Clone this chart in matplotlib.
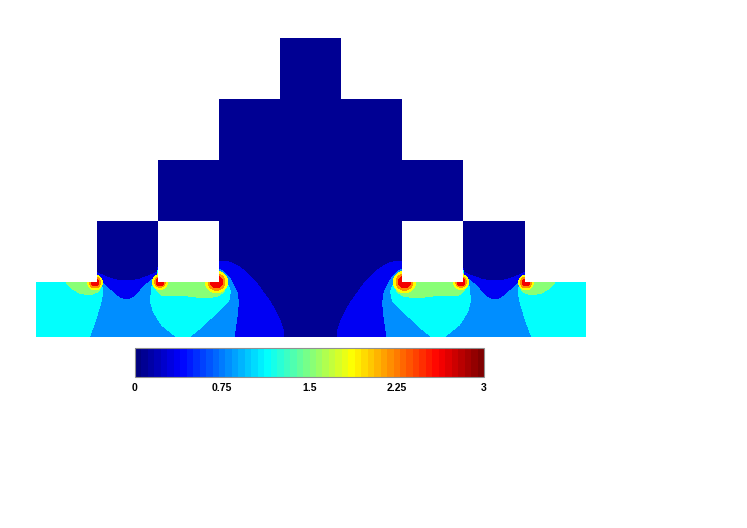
#
# stepped field over a pyramid of blocks, with a horizontal colour bar
# coordinates are mesh units, x = 0 on the symmetry axis, y = 0 on top of the strip
#

import matplotlib
matplotlib.use("Agg")
import matplotlib.pyplot as plt
import matplotlib.colors as col
import matplotlib.cm as cm
from matplotlib.patches import Polygon, Circle, Rectangle


vmin = 0.
vmax = 3.
cbar_ticks = [0, 0.75, 1.5, 2.25, 3]
cbar_labels = ["0", "0.75", "1.5", "2.25", "3"]

# outline of the whole domain, left half from the bottom up to the apex
domain_x = [0, -275, -275, -214, -214, -152.5, -152.5, -91.5, -91.5, -30.5, -30.5, 0]
domain_y = [-55, -55, 0, 0, 61, 61, 122, 122, 183, 183, 244, 244]

# openings in the pyramid, left half
hole_x = [-152.5, -91.5]
hole_y = [0, 61]

# field values of the flat bands
val_navy = 0.1
val_blue = 0.375
val_mid = 0.79
val_cyan = 1.125
val_green = 1.54

# band outlines, left half
blue_x = [-275, -275, -214, -214, -207, -200.5, -193, -185.5, -178, -170.5, -162, -153.2, -150, -95,
	-91.5, -85.5, -80.5, -73.5, -67.2, -60.5, -53.8, -47.5, -40.5, -34.5, -30.5, -27.5, -26.5]
blue_y = [-55, 0, 0, 9.7, 6.3, 3.7, 1.8, 1, 1.5, 3, 6, 9.7, 30, 30,
	21, 20.5, 19.7, 16.5, 12, 6, -1.3, -10, -19.7, -30, -38, -47, -55]

mid_x = [-275, -275, -214, -214, -208.8, -204.5, -200.5, -195, -190.5, -187, -183.8, -180, -175.5,
	-171, -167.2, -163, -158.8, -153.2, -150, -95,
	-91.5, -88, -83.8, -80, -77.2, -74.5, -72.8, -72.3, -72.8, -74.5, -76.5]
mid_y = [-55, 0, 0, 3.7, 0.3, -4.2, -8, -13, -16.3, -17.5, -18, -17, -14.7,
	-10, -4.7, -1.5, 2, 5.3, 30, 30,
	13, 11, 7, 2.5, -3, -8, -13, -21, -29.7, -42, -55]

cyan_left_x = [-275, -275, -212.5, -209, -207.8, -208.3, -209.8, -212.5, -215.5, -221.2]
cyan_left_y = [-55, 0, 0, -4, -8, -14, -21, -30, -39.7, -55]

cyan_mid_x = [-91.5, -87.5, -83.8, -81.2, -80.3, -80.8, -82.5, -88.8, -100, -110, -118.8, -120.5,
	-133.8, -148.8, -157.2, -159.8, -159.5, -158.8, -153.8, -150, -95]
cyan_mid_y = [6.3, 3, -1.3, -5.5, -9.7, -15, -20, -26, -36.5, -46, -53, -55,
	-55, -43, -29.7, -20, -13, -4.7, 2, 30, 30]

green_left_x = [-244.5, -238.8, -230.5, -220.5, -212.2, -208.8, -212.2, -214]
green_left_y = [0, -6.3, -11.3, -13, -9.7, -3, 2, 2]

green_mid_x = [-91.5, -87.2, -84.5, -86.2, -93.8, -108.8, -122.2, -138.8, -148.8, -152.8,
	-155.5, -156.2, -153.2, -150, -95]
green_mid_y = [3.7, 2, -3, -9.7, -14.7, -15.7, -14, -13.7, -13, -9.7,
	-4.7, -1.3, 3, 30, 30]

# peaks at the block corners, left half
peak_x = [-215.5, -150.5, -94]
peak_y = [-0.5, 0, 0]
peak_vals = [1.875, 2.21, 2.625]
peak_radii = [[7.5, 5.5, 3.5], [7.5, 5.5, 4], [11, 8.3, 6]]


# matlab style jet, stepped
jet = col.LinearSegmentedColormap.from_list("jet_steps", [
	(0., (0, 0, 0.5)), (0.125, (0, 0, 1)), (0.375, (0, 1, 1)),
	(0.625, (1, 1, 0)), (0.875, (1, 0, 0)), (1., (0.5, 0, 0))], N = 54)
norm = col.Normalize(vmin, vmax)


def colour(val):
	return jet(norm(val))


fig = plt.figure(figsize = (7.47, 5.28), dpi = 100)
ax = fig.add_axes([0, 0, 1, 1])
ax.set_xlim(-310.5, 436.5)
ax.set_ylim(-246, 282)
ax.axis("off")

# domain outline used to clip everything
right_x = [-x for x in domain_x[::-1]]
right_y = domain_y[::-1]
clip = Polygon(list(zip(domain_x + right_x, domain_y + right_y)), closed = True,
	fc = colour(val_navy), ec = "none", antialiased = False)
ax.add_patch(clip)


def band(xs, ys, val):
	for sign in (1, -1):
		pts = [(sign*x, y) for x, y in zip(xs, ys)]
		p = Polygon(pts, closed = True, fc = colour(val), ec = "none", lw = 0, antialiased = False)
		ax.add_patch(p)
		p.set_clip_path(clip)


band(blue_x, blue_y, val_blue)
band(mid_x, mid_y, val_mid)
band(cyan_left_x, cyan_left_y, val_cyan)
band(cyan_mid_x, cyan_mid_y, val_cyan)
band(green_left_x, green_left_y, val_green)
band(green_mid_x, green_mid_y, val_green)

for x, y, radii in zip(peak_x, peak_y, peak_radii):
	for val, r in zip(peak_vals, radii):
		for sign in (1, -1):
			c = Circle((sign*x, y), r, fc = colour(val), ec = "none", lw = 0, antialiased = False)
			ax.add_patch(c)
			c.set_clip_path(clip)

# openings on top of the field
for sign in (1, -1):
	x0 = min(sign*hole_x[0], sign*hole_x[1])
	ax.add_patch(Rectangle((x0, hole_y[0]), hole_x[1] - hole_x[0], hole_y[1] - hole_y[0],
		fc = "white", ec = "none", lw = 0, antialiased = False))

# colour bar
cax = fig.add_axes([135/747, 1 - 377/528, 349/747, 29/528])
cbar = fig.colorbar(cm.ScalarMappable(norm = norm, cmap = jet), cax = cax,
	orientation = "horizontal", ticks = cbar_ticks)
cbar.ax.set_xticklabels(cbar_labels, fontfamily = "Liberation Sans", fontweight = "bold",
	fontsize = 7.5)
cbar.ax.tick_params(length = 0, pad = 4)
cbar.outline.set_edgecolor("#909090")
cbar.outline.set_linewidth(0.8)

fig.savefig("out.png", dpi = 100)
